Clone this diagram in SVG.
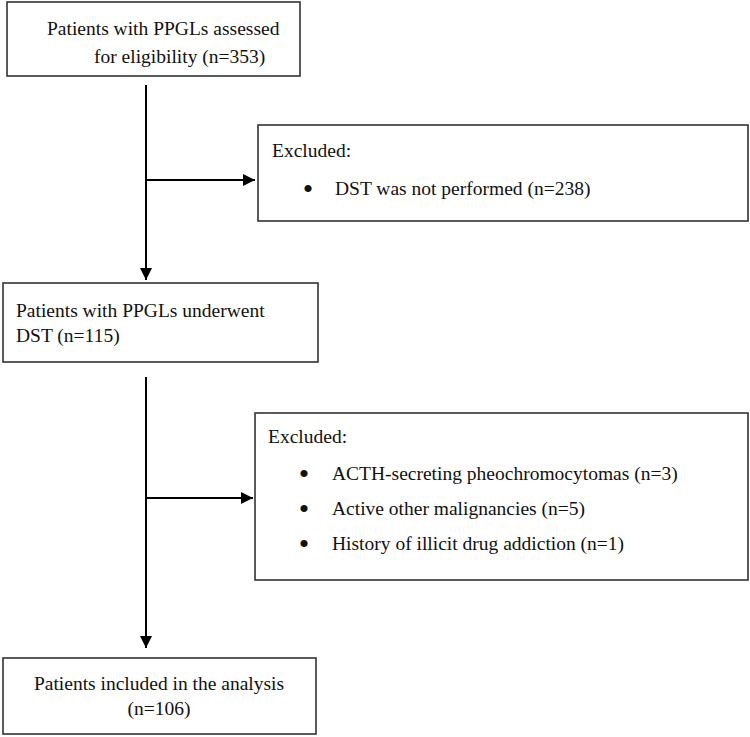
<svg xmlns="http://www.w3.org/2000/svg" width="750" height="737" viewBox="0 0 750 737">
<style>
.box{fill:#fff;stroke:#333;stroke-width:1.6}
.t{font-family:"Liberation Serif","Times New Roman",serif;font-size:19.5px;fill:#111}
.b{font-family:"Liberation Serif","Times New Roman",serif;font-size:30px;fill:#111;text-anchor:middle}
.c{stroke:#000;stroke-width:2;fill:none}
</style>
<defs>
<marker id="ah" markerUnits="userSpaceOnUse" markerWidth="14" markerHeight="12" refX="12" refY="6" orient="auto">
<path d="M0,0 L12,6 L0,12 Z" fill="#000"/>
</marker>
</defs>
<rect width="750" height="737" fill="#fff"/>
<g id="connectors">
<line class="c" x1="146" y1="85" x2="146" y2="280" marker-end="url(#ah)"/>
<line class="c" x1="146" y1="180" x2="255" y2="180" marker-end="url(#ah)"/>
<line class="c" x1="146" y1="377" x2="146" y2="648" marker-end="url(#ah)"/>
<line class="c" x1="146" y1="498" x2="253" y2="498" marker-end="url(#ah)"/>
</g>
<g id="n1">
<rect class="box" x="7" y="2" width="293" height="74"/>
<text class="t" x="47" y="35">Patients with PPGLs assessed</text>
<text class="t" x="94" y="63">for eligibility (n=353)</text>
</g>
<g id="n2">
<rect class="box" x="258" y="125" width="490" height="96"/>
<text class="t" x="272" y="157">Excluded:</text>
<text class="b" x="308" y="199">•</text>
<text class="t" x="335" y="195">DST was not performed (n=238)</text>
</g>
<g id="n3">
<rect class="box" x="3" y="283" width="315" height="79"/>
<text class="t" x="16" y="317">Patients with PPGLs underwent</text>
<text class="t" x="16" y="342">DST (n=115)</text>
</g>
<g id="n4">
<rect class="box" x="255" y="413" width="493" height="167"/>
<text class="t" x="268" y="443">Excluded:</text>
<text class="b" x="304" y="484">•</text>
<text class="t" x="332" y="480">ACTH-secreting pheochromocytomas (n=3)</text>
<text class="b" x="304" y="519">•</text>
<text class="t" x="332" y="515">Active other malignancies (n=5)</text>
<text class="b" x="304" y="554">•</text>
<text class="t" x="332" y="550">History of illicit drug addiction (n=1)</text>
</g>
<g id="n5">
<rect class="box" x="3" y="658" width="313" height="76"/>
<text class="t" x="159" y="690" text-anchor="middle">Patients included in the analysis</text>
<text class="t" x="159" y="715" text-anchor="middle">(n=106)</text>
</g>
</svg>
